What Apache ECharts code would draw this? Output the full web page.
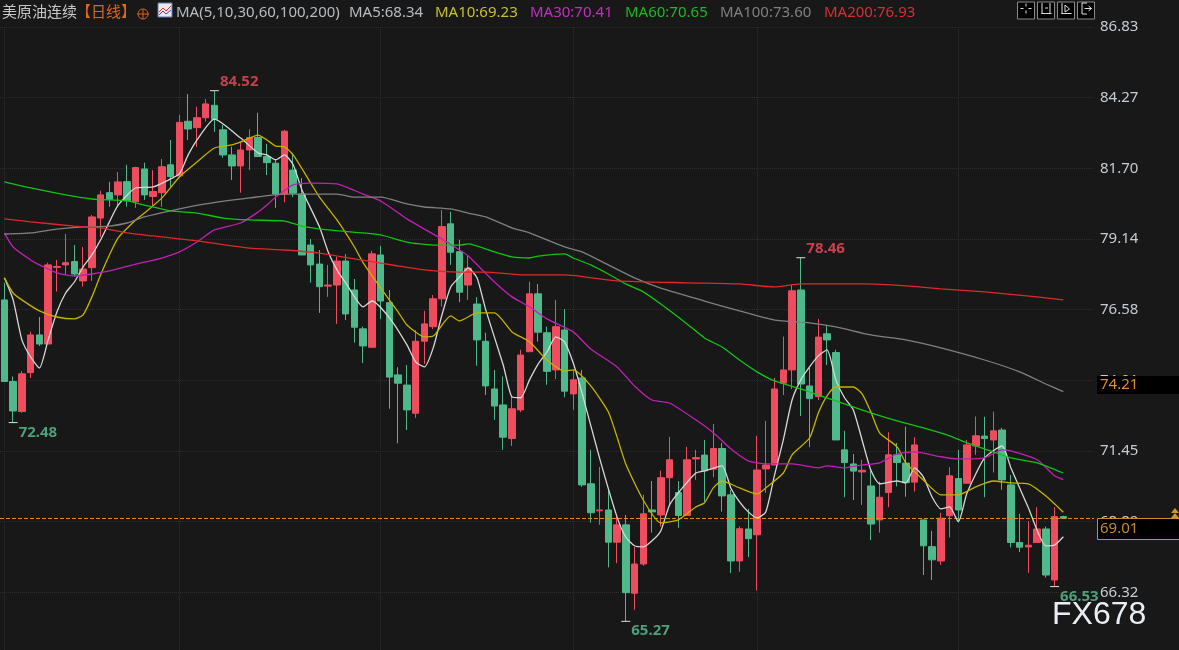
<!DOCTYPE html>
<html>
<head>
<meta charset="utf-8">
<title>美原油连续</title>
<style>
html,body{margin:0;padding:0;background:#181818;}
#container{width:1179px;height:650px;}
</style>
<script src="https://cdn.jsdelivr.net/npm/echarts@6/dist/echarts.min.js"></script>
</head>
<body>
<div id="container"></div>
<script>
// 日线数据 [开, 收, 低, 高]
var kline = [
[76.93,73.97,73.97,77.55],[73.97,72.90,72.48,74.15],[72.88,74.25,72.84,74.35],[74.29,75.66,74.10,75.78],[75.66,75.33,75.26,76.31],
[75.33,78.20,75.33,78.28],[78.11,78.14,77.23,78.38],[78.20,78.28,77.84,79.32],[78.32,77.87,77.77,78.92],[77.62,78.05,77.41,78.85],
[78.10,79.94,77.62,80.01],[79.90,80.74,79.21,80.89],[80.82,80.58,80.31,81.21],[80.74,81.21,80.31,81.57],[81.22,80.53,80.31,81.83],
[80.49,81.73,80.27,81.76],[81.68,80.74,80.56,81.91],[80.68,80.86,80.31,81.64],[80.82,81.76,80.31,82.04],[81.83,81.40,80.99,82.73],
[81.43,83.37,81.35,83.64],[83.41,83.13,82.73,84.40],[83.18,83.54,82.48,83.94],[83.54,84.04,83.40,84.22],[83.99,83.48,83.03,84.52],
[83.10,82.19,82.09,83.28],[82.19,81.79,81.28,82.49],[81.79,82.37,80.82,82.67],[82.37,82.82,81.64,83.12],[82.82,82.13,82.13,83.72],
[82.13,81.91,81.46,82.59],[81.89,80.77,80.27,82.04],[80.77,83.05,80.47,83.10],[81.64,80.80,80.66,82.26],[80.77,78.56,78.56,81.35],
[78.92,78.20,77.56,79.14],[78.23,77.41,76.46,78.74],[77.43,77.47,77.04,78.20],[77.47,78.34,76.06,78.50],[78.34,76.42,76.20,78.59],
[77.29,75.94,75.38,77.69],[75.88,75.26,74.64,75.96],[75.21,78.60,75.21,78.71],[78.56,76.89,76.24,78.89],[76.83,74.13,72.98,77.29],
[74.21,73.91,71.73,74.49],[73.84,72.94,72.21,74.57],[72.82,75.43,72.65,75.84],[75.43,76.06,74.61,76.53],[75.96,76.97,75.87,77.11],
[76.97,79.59,76.69,80.19],[79.69,78.66,78.20,80.13],[78.68,77.21,76.85,79.11],[77.47,78.08,76.93,78.56],[76.78,75.48,74.54,77.03],
[75.43,73.81,73.48,75.74],[73.70,73.08,72.58,74.39],[73.12,71.95,71.49,74.15],[71.90,72.98,71.63,73.42],[72.94,74.93,72.86,75.12],
[75.05,77.15,75.05,77.59],[77.15,75.76,75.42,77.51],[75.74,74.34,73.85,75.96],[74.39,75.96,74.06,76.93],[75.84,73.62,73.40,76.60],
[73.52,74.03,72.94,74.39],[74.10,70.22,70.15,74.39],[70.26,69.21,68.85,71.49],[69.28,69.31,68.77,70.87],[69.31,68.14,67.23,70.04],
[68.14,68.77,67.38,69.06],[68.77,66.31,65.27,69.13],[66.29,67.35,65.69,67.97],[67.35,69.17,67.28,69.86],[69.31,69.24,68.49,70.36],
[69.13,70.48,68.71,70.74],[70.48,71.13,69.49,71.96],[69.94,69.11,68.66,70.36],[69.11,71.13,69.11,71.60],[71.16,71.21,70.40,71.49],
[71.30,70.73,69.61,71.85],[70.79,71.54,70.50,72.43],[71.54,69.82,69.25,71.74],[69.86,67.46,67.02,70.04],[67.46,68.63,67.07,68.71],
[68.62,68.27,67.60,69.35],[68.41,70.76,66.39,72.00],[70.80,70.94,69.93,72.54],[70.94,73.70,70.94,74.10],[73.91,74.39,73.48,75.60],
[74.39,77.26,73.70,77.47],[77.29,73.88,72.72,78.46],[73.81,73.35,71.59,74.46],[73.42,75.58,73.30,76.24],[75.70,75.48,74.57,76.02],
[75.02,71.85,71.85,75.12],[71.49,71.03,69.77,72.18],[70.98,70.72,69.67,71.34],[70.69,70.75,69.49,71.13],[70.18,68.80,68.22,70.76],
[68.95,69.77,68.49,70.34],[69.94,71.31,69.41,72.13],[71.31,71.03,70.16,71.74],[71.01,70.30,69.79,72.33],[70.32,71.67,69.98,71.95],
[68.95,68.01,66.95,68.95],[67.98,67.50,66.77,68.55],[67.46,69.01,67.32,69.21],[69.10,70.55,68.31,70.87],[70.45,69.31,68.89,71.49],
[70.28,71.67,70.28,71.85],[71.63,72.00,71.31,72.70],[71.99,71.90,69.77,72.69],[71.85,72.18,70.67,72.88],[72.21,70.40,70.04,72.29],
[70.22,68.13,67.95,70.58],[68.13,67.96,67.78,69.17],[67.97,68.03,67.02,68.91],[68.13,68.62,68.13,69.41],[68.62,66.95,66.86,68.71],
[66.77,69.07,66.53,69.41],[69.07,69.01,69.01,69.10]
];
// 均线 [K线序号, 价格]
var ma5 = [[0,77.73],[1,76.93],[2,75.48],[3,74.86],[4,74.46],[5,75.48],[6,76.49],[7,77.18],[8,77.58],[9,78.13],[10,78.56],[11,79.11],[12,79.76],[13,80.37],[15,80.99],[17,81.03],[19,81.32],[20,81.50],[21,82.19],[22,82.73],[24,83.49],[27,82.80],[29,82.26],[30,82.19],[31,82.01],[32,82.19],[33,81.83],[34,80.92],[36,79.58],[37,78.67],[38,78.02],[39,77.55],[41,76.68],[42,76.89],[44,76.28],[46,75.30],[47,74.68],[48,74.50],[49,75.19],[50,76.39],[51,77.40],[52,77.76],[53,78.09],[54,77.73],[55,76.57],[57,74.57],[58,73.41],[59,73.38],[60,74.03],[61,74.61],[62,75.04],[63,75.59],[64,75.41],[65,74.64],[66,73.56],[68,71.20],[70,69.06],[71,68.33],[72,68.01],[73,67.97],[74,68.19],[75,68.55],[76,69.49],[77,69.93],[79,70.65],[80,70.73],[82,70.91],[83,70.11],[84,69.60],[85,69.24],[86,69.02],[87,69.24],[88,70.58],[89,71.85],[90,73.30],[91,74.03],[92,74.50],[93,74.90],[94,75.12],[95,74.03],[96,73.38],[97,72.94],[98,71.85],[99,70.76],[100,70.26],[102,70.36],[103,70.29],[104,70.84],[105,70.51],[106,69.78],[107,69.35],[108,69.42],[109,68.88],[110,69.93],[112,71.20],[114,71.63],[115,70.84],[117,69.39],[119,68.01],[120,68.04],[121,68.34]];
var ma10 = [[0,77.73],[1,77.18],[2,76.93],[4,76.53],[6,76.31],[8,76.24],[9,76.39],[10,77.04],[11,77.84],[12,78.56],[13,79.18],[15,79.83],[16,80.08],[18,80.63],[20,81.39],[22,81.93],[24,82.44],[26,82.55],[27,82.66],[29,82.91],[30,82.73],[31,82.51],[32,82.48],[33,82.19],[35,81.17],[36,80.66],[38,79.83],[40,78.85],[41,78.27],[43,77.36],[45,76.49],[46,76.02],[48,75.59],[49,75.62],[51,76.35],[52,76.17],[54,76.46],[56,76.46],[58,75.77],[60,75.41],[62,74.75],[64,74.35],[65,74.39],[67,73.81],[69,72.87],[70,71.96],[71,70.98],[73,69.67],[75,68.84],[77,68.95],[79,69.42],[80,69.57],[81,70.11],[82,70.36],[84,70.11],[86,69.89],[87,70.11],[89,70.65],[90,71.31],[92,71.92],[93,72.83],[94,73.45],[95,73.77],[97,73.77],[98,73.52],[99,72.87],[100,72.11],[102,71.60],[103,71.02],[105,70.40],[107,69.86],[109,69.86],[111,70.15],[113,70.36],[115,70.29],[117,70.26],[119,69.82],[121,69.23]];
var ma30 = [[0,79.36],[1,78.85],[3,78.38],[4,78.20],[6,77.91],[8,77.80],[10,77.87],[12,77.98],[15,78.23],[18,78.45],[20,78.67],[22,79.03],[24,79.47],[27,79.72],[29,80.12],[30,80.37],[31,80.66],[33,81.10],[35,81.17],[38,81.14],[39,81.03],[41,80.77],[43,80.52],[46,79.87],[48,79.50],[50,79.14],[52,78.74],[53,78.52],[56,77.58],[58,77.04],[60,76.68],[62,76.24],[65,75.77],[67,75.15],[70,74.50],[72,73.81],[74,73.30],[76,73.19],[79,72.58],[81,72.11],[83,71.53],[85,71.09],[87,70.98],[90,70.98],[93,70.84],[94,70.91],[96,70.84],[98,70.94],[100,71.02],[102,71.34],[104,71.42],[107,71.24],[109,71.16],[112,71.20],[114,71.49],[115,71.45],[118,71.13],[120,70.55],[121,70.41]];
var ma60 = [[0,81.21],[3,80.99],[7,80.74],[10,80.59],[14,80.52],[16,80.37],[19,80.16],[22,80.08],[25,79.90],[28,79.83],[32,79.79],[34,79.61],[37,79.47],[41,79.36],[43,79.29],[46,79.03],[49,78.92],[52,78.92],[53,78.96],[56,78.67],[58,78.49],[60,78.45],[61,78.52],[64,78.60],[65,78.45],[67,78.20],[69,77.87],[71,77.51],[73,77.22],[75,76.78],[78,76.06],[80,75.55],[82,75.22],[84,74.75],[86,74.32],[88,73.99],[91,73.70],[93,73.48],[96,73.16],[99,72.83],[102,72.54],[105,72.29],[108,72.00],[110,71.74],[113,71.42],[115,71.20],[118,71.02],[121,70.65]];
var ma100 = [[0,79.32],[3,79.36],[6,79.50],[9,79.58],[12,79.61],[14,79.72],[16,79.94],[19,80.16],[23,80.41],[28,80.63],[32,80.77],[38,80.77],[40,80.66],[43,80.66],[46,80.41],[48,80.30],[51,80.23],[53,80.08],[55,79.94],[58,79.54],[60,79.36],[64,78.85],[66,78.67],[69,78.20],[72,77.73],[75,77.36],[80,76.89],[84,76.53],[88,76.20],[92,76.10],[95,75.95],[99,75.66],[103,75.48],[107,75.19],[112,74.75],[116,74.32],[119,73.88],[121,73.60]];
var ma200 = [[0,79.87],[3,79.76],[8,79.61],[11,79.54],[14,79.36],[17,79.25],[22,79.07],[28,78.81],[32,78.74],[36,78.63],[40,78.42],[45,78.16],[48,78.02],[52,77.94],[55,77.94],[59,77.84],[64,77.84],[70,77.62],[78,77.55],[84,77.51],[88,77.40],[91,77.51],[98,77.51],[103,77.44],[107,77.33],[112,77.22],[118,77.04],[121,76.93]];
// 高低点标记 [序号, 价格, 颜色, 文字上下偏移]
var extremes = [[24,84.52,'#c8404e',-9],[1,72.48,'#4f9f7b',10],[91,78.46,'#c8404e',-9],[71,65.27,'#4f9f7b',9],[120,66.53,'#4f9f7b',10]];
// 纵轴刻度
var priceTicks = [86.83,84.27,81.70,79.14,76.58,74.01,71.45,68.89,66.32];
var monthStarts = [0,20,43,65,86,109];
var lastClose = 69.01;
var markedPrice = 74.21;
var blankBars = 3;

var categories = [];
for (var i = 0; i < kline.length + blankBars; i++) {
    categories.push(String(i));
}
var fontName = '"Noto Sans","Noto Sans CJK SC",sans-serif';

// 顶部文字
function headText(x, str, color) {
    return {type:'text', x:x, y:13, style:{text:str, fill:color, font:'15px ' + fontName, textVerticalAlign:'middle'}};
}
// 右上角工具按钮
function toolBtn(x, lines) {
    var el = [{type:'rect', shape:{x:x, y:2, width:17, height:17}, style:{fill:'#000', stroke:'#8a8a8a', lineWidth:1}}];
    for (var n = 0; n < lines.length; n++) {
        var l = lines[n];
        el.push({type:'line', shape:{x1:x + l[0], y1:l[1], x2:x + l[2], y2:l[3]}, style:{stroke:'#e0e0e0', lineWidth:1}});
    }
    return el;
}
var graphics = [
    headText(2, '美原油连续', '#c8c8c8'),
    headText(76, '【日线】', '#e0661a'),
    {type:'circle', shape:{cx:143, cy:14, r:5}, style:{fill:'none', stroke:'#d8601a', lineWidth:1}},
    {type:'line', shape:{x1:137, y1:14, x2:149, y2:14}, style:{stroke:'#d8601a', lineWidth:1}},
    {type:'line', shape:{x1:143, y1:9, x2:143, y2:19}, style:{stroke:'#d8601a', lineWidth:1}},
    {type:'rect', shape:{x:158, y:3, width:14, height:14}, style:{fill:'#e8e8e8', stroke:'#5a7ab0', lineWidth:1}},
    {type:'polyline', shape:{points:[[159,12],[163,8],[166,11],[171,6]]}, style:{fill:'none', stroke:'#e03030', lineWidth:1}},
    {type:'polyline', shape:{points:[[159,15],[163,11],[166,14],[171,10]]}, style:{fill:'none', stroke:'#3050c0', lineWidth:1}},
    headText(176, 'MA(5,10,30,60,100,200)', '#b8bcc0'),
    headText(349, 'MA5:68.34', '#b8bcc0'),
    headText(435, 'MA10:69.23', '#c8c030'),
    headText(530, 'MA30:70.41', '#c030c0'),
    headText(625, 'MA60:70.65', '#20b820'),
    headText(720, 'MA100:73.60', '#808080'),
    headText(824, 'MA200:76.93', '#d83030'),
    // 现价标签
    {type:'rect', z:20, shape:{x:1097, y:376, width:82, height:18}, style:{fill:'#000'}},
    {type:'text', z:21, x:1100, y:385, style:{text:markedPrice.toFixed(2), fill:'#d89030', font:'15px ' + fontName, textVerticalAlign:'middle'}},
    {type:'rect', z:20, shape:{x:1097.5, y:518.5, width:82, height:21}, style:{fill:'#000', stroke:'#d08a30', lineWidth:1}},
    {type:'text', z:21, x:1100, y:529, style:{text:lastClose.toFixed(2), fill:'#c88a30', font:'15px ' + fontName, textVerticalAlign:'middle'}},
    {type:'polygon', z:21, shape:{points:[[1175,508],[1179,513],[1171,513]]}, style:{fill:'#d89030'}},
    {type:'polygon', z:21, shape:{points:[[1175,513],[1179,518],[1171,518]]}, style:{fill:'#d89030'}},
    // 水印
    {type:'text', z:30, x:1052, y:615, style:{text:'FX678', fill:'#e8eef4', font:'32px "Liberation Sans",sans-serif', textVerticalAlign:'middle'}}
];
graphics = graphics
    .concat(toolBtn(1017.5, [[8.5,3.5,8.5,6.5],[8.5,10.5,8.5,13.5],[3,8.5,6,8.5],[11,8.5,14,8.5]]))
    .concat(toolBtn(1037.5, [[4.5,3,4.5,14],[12.5,3,12.5,14],[4,13.5,14,13.5],[7.5,8,10.5,8]]))
    .concat(toolBtn(1057.5, [[4.5,3,4.5,14],[4,13.5,14,13.5],[7.5,5,12,9],[7.5,12,12,9],[7.5,5,7.5,12]]))
    .concat(toolBtn(1077.5, [[4.5,3,4.5,14],[4.5,3,9.5,3],[4.5,14,9.5,14],[7,8.5,14,8.5],[11,6,14,8.5],[11,11,14,8.5]]));

var marks = [];
for (var m = 0; m < extremes.length; m++) {
    var ex = extremes[m];
    marks.push({
        coord:[ex[0], ex[1]],
        value:ex[1].toFixed(2),
        itemStyle:{color:'#e0e0e0'},
        label:{color:ex[2], offset:[0, ex[3]], fontWeight:'bold'}
    });
}

function maSeries(name, data, color) {
    return {
        name:name, type:'line', data:data, showSymbol:false, smooth:0.2, silent:true,
        lineStyle:{color:color, width:1.3}, itemStyle:{color:color}, z:5
    };
}

var dom = document.getElementById('container');
var myChart = echarts.init(dom, null, {renderer:'canvas'});
var option = {
    animation:false,
    backgroundColor:'#181818',
    textStyle:{fontFamily:fontName},
    grid:{left:0, right:85, top:27, bottom:0},
    graphic:{elements:graphics},
    xAxis:{
        type:'category', data:categories, boundaryGap:true,
        axisLine:{show:false}, axisTick:{show:false}, axisLabel:{show:false},
        splitLine:{
            show:true, alignWithLabel:true,
            interval:function (index) { return monthStarts.indexOf(index) >= 0; },
            lineStyle:{color:'#2e2e2e', type:'dotted', width:1}
        }
    },
    yAxis:{
        type:'value', position:'right', min:64.23, max:86.83, scale:true,
        axisLine:{show:false},
        axisTick:{show:false, customValues:priceTicks},
        axisLabel:{
            customValues:priceTicks, margin:6, color:'#c4ccd4', fontSize:15, padding:[0,0,2,0],
            formatter:function (v) { return v.toFixed(2); }
        },
        splitLine:{show:true, lineStyle:{color:'#2e2e2e', type:'dotted', width:1}}
    },
    series:[
        {
            name:'美原油连续', type:'candlestick', data:kline, barWidth:7, z:3,
            itemStyle:{color:'#ee4d5f', color0:'#4fb98b', borderColor:'#ee4d5f', borderColor0:'#4fb98b', borderWidth:1},
            markPoint:{
                silent:true, symbol:'rect', symbolSize:[9,1], data:marks,
                label:{show:true, position:'right', distance:1, fontSize:15, formatter:'{c}'}
            },
            markLine:{
                silent:true, symbol:'none', label:{show:false},
                lineStyle:{color:'#e08a20', type:[4,2], width:1},
                data:[{yAxis:lastClose}]
            }
        },
        maSeries('MA5', ma5, '#d8d8d8'),
        maSeries('MA10', ma10, '#c4b400'),
        maSeries('MA30', ma30, '#c020b8'),
        maSeries('MA60', ma60, '#14c414'),
        maSeries('MA100', ma100, '#808080'),
        maSeries('MA200', ma200, '#e02828')
    ]
};
myChart.setOption(option, true);
</script>
</body>
</html>
